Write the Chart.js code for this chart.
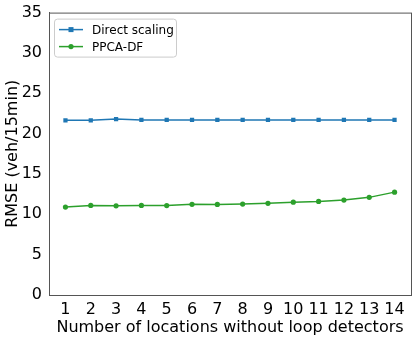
<!DOCTYPE html>
<html>
<head>
    <meta charset="utf-8">
    <title>RMSE chart</title>
    <script src="https://cdn.jsdelivr.net/npm/chart.js@4.4.0/dist/chart.umd.min.js"></script>
    <style>
        html, body { margin: 0; padding: 0; background: #fff; }
        #wrap { width: 416px; height: 337px; }
    </style>
</head>
<body>
    <div id="wrap"><canvas id="rmse-chart" width="416" height="337"></canvas></div>
    <script>
        // data
        var locations = [1, 2, 3, 4, 5, 6, 7, 8, 9, 10, 11, 12, 13, 14];
        var directScaling = [21.65, 21.65, 21.8, 21.7, 21.7, 21.7, 21.7, 21.7, 21.7, 21.7, 21.7, 21.7, 21.7, 21.7];
        var ppcaDf = [10.9, 11.1, 11.05, 11.1, 11.08, 11.24, 11.22, 11.27, 11.36, 11.5, 11.6, 11.77, 12.1, 12.75];
        var yTicks = [0, 5, 10, 15, 20, 25, 30, 35];

        var font = 'DejaVu Sans';

        function toPoints(vals) {
            return locations.map(function (x, i) { return { x: x, y: vals[i] }; });
        }

        // frame round the plot (matplotlib-like spines)
        var framePlugin = {
            id: 'frame',
            afterDraw: function (chart) {
                var a = chart.chartArea, ctx = chart.ctx;
                ctx.save();
                ctx.strokeStyle = '#555';
                ctx.lineWidth = 1;
                ctx.strokeRect(a.left + 0.5, a.top + 0.5, a.right - a.left, a.bottom - a.top);
                ctx.restore();
            }
        };

        // legend drawn inside the plot, top left
        var legendPlugin = {
            id: 'innerLegend',
            afterDraw: function (chart) {
                var a = chart.chartArea, ctx = chart.ctx;
                var x = a.left + 5, y = a.top + 6, w = 122, h = 38;
                ctx.save();
                ctx.fillStyle = 'rgba(255,255,255,0.8)';
                ctx.strokeStyle = '#ccc';
                ctx.lineWidth = 1;
                ctx.beginPath();
                ctx.roundRect(x + 0.5, y + 0.5, w, h, 3);
                ctx.fill();
                ctx.stroke();
                ctx.font = '12px "' + font + '"';
                ctx.textBaseline = 'middle';
                chart.data.datasets.forEach(function (ds, i) {
                    var ly = y + 11 + i * 17;
                    ctx.strokeStyle = ds.borderColor;
                    ctx.lineWidth = 1.5;
                    ctx.beginPath();
                    ctx.moveTo(x + 5, ly);
                    ctx.lineTo(x + 29, ly);
                    ctx.stroke();
                    ctx.fillStyle = ds.borderColor;
                    if (ds.pointStyle === 'rect') {
                        ctx.fillRect(x + 17 - 2.5, ly - 2.5, 5, 5);
                    } else {
                        ctx.beginPath();
                        ctx.arc(x + 17, ly, 2.6, 0, Math.PI * 2);
                        ctx.fill();
                    }
                    ctx.fillStyle = '#000';
                    ctx.fillText(ds.label, x + 38, ly + 1);
                });
                ctx.restore();
            }
        };

        var chart = new Chart(document.getElementById('rmse-chart'), {
            type: 'line',
            data: {
                datasets: [{
                    label: 'Direct scaling',
                    data: toPoints(directScaling),
                    borderColor: '#1f77b4',
                    backgroundColor: '#1f77b4',
                    borderWidth: 1.5,
                    pointStyle: 'rect',
                    pointRadius: 3,
                    pointBorderWidth: 0
                }, {
                    label: 'PPCA-DF',
                    data: toPoints(ppcaDf),
                    borderColor: '#2ca02c',
                    backgroundColor: '#2ca02c',
                    borderWidth: 1.5,
                    pointStyle: 'circle',
                    pointRadius: 2.6,
                    pointBorderWidth: 0
                }]
            },
            options: {
                responsive: false,
                animation: false,
                layout: { padding: { top: 10, right: 5, left: 0, bottom: 0 } },
                plugins: {
                    legend: { display: false },
                    tooltip: { enabled: false }
                },
                scales: {
                    x: {
                        type: 'linear',
                        min: 0.35,
                        max: 14.65,
                        afterBuildTicks: function (scale) {
                            scale.ticks = locations.map(function (v) { return { value: v }; });
                        },
                        afterFit: function (scale) { scale.height = 42; },
                        grid: { display: false, drawTicks: true, tickLength: 4 },
                        border: { display: true, color: '#555' },
                        ticks: {
                            color: '#000',
                            font: { family: font, size: 16 },
                            padding: 1,
                            maxRotation: 0,
                            autoSkip: false
                        },
                        title: {
                            display: true,
                            text: 'Number of locations without loop detectors',
                            color: '#000',
                            font: { family: font, size: 16 },
                            padding: { top: 0, bottom: 0 }
                        }
                    },
                    y: {
                        min: 0,
                        max: 35,
                        afterBuildTicks: function (scale) {
                            scale.ticks = yTicks.map(function (v) { return { value: v }; });
                        },
                        afterFit: function (scale) { scale.width = 49; },
                        grid: { display: false, drawTicks: true, tickLength: 4 },
                        border: { display: true, color: '#555' },
                        ticks: {
                            color: '#000',
                            font: { family: font, size: 16 },
                            padding: 3
                        },
                        title: {
                            display: true,
                            text: 'RMSE (veh/15min)',
                            color: '#000',
                            font: { family: font, size: 16 },
                            padding: { top: 3, bottom: 0 }
                        }
                    }
                }
            },
            plugins: [framePlugin, legendPlugin]
        });
    </script>
</body>
</html>
